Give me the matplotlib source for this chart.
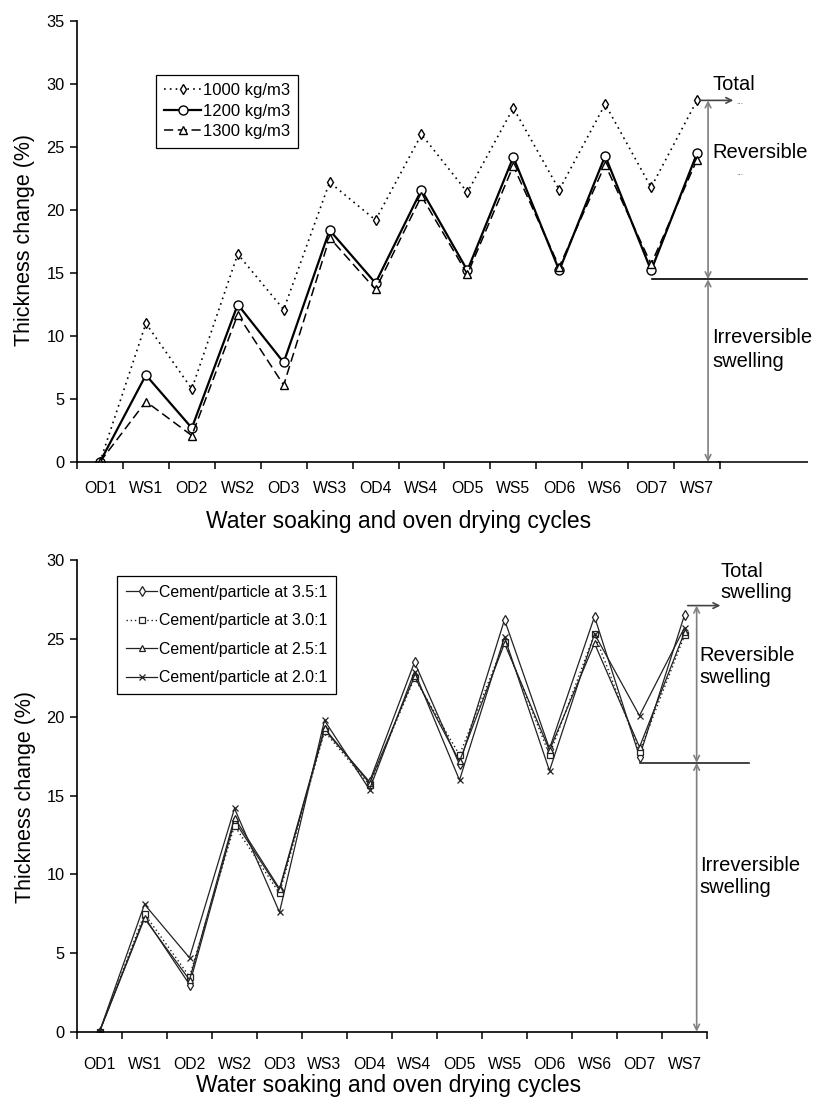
import numpy as np
import matplotlib
matplotlib.use("Agg")
import matplotlib.pyplot as plt

plt.rcParams['font.family'] = ['Liberation Sans', 'DejaVu Sans']

# ---------------- data ----------------
cycles = ['OD1', 'WS1', 'OD2', 'WS2', 'OD3', 'WS3', 'OD4',
          'WS4', 'OD5', 'WS5', 'OD6', 'WS6', 'OD7', 'WS7']

density_labels = ['1000 kg/m3', '1200 kg/m3', '1300 kg/m3']
density_1000 = [0, 11.0, 5.8, 16.5, 12.1, 22.2, 19.2, 26.0, 21.4, 28.1, 21.6, 28.4, 21.8, 28.7]
density_1200 = [0, 6.9, 2.7, 12.5, 7.9, 18.4, 14.2, 21.6, 15.2, 24.2, 15.2, 24.3, 15.2, 24.5]
density_1300 = [0, 4.8, 2.1, 11.7, 6.1, 17.8, 13.7, 21.1, 14.9, 23.5, 15.5, 23.6, 15.7, 24.0]

ratio_labels = ['Cement/particle at 3.5:1', 'Cement/particle at 3.0:1',
                'Cement/particle at 2.5:1', 'Cement/particle at 2.0:1']
ratio_35 = [0, 7.3, 3.0, 13.4, 9.0, 19.2, 15.9, 23.5, 17.0, 26.2, 18.0, 26.4, 17.5, 26.5]
ratio_30 = [0, 7.5, 3.5, 13.1, 8.8, 19.1, 15.7, 22.5, 17.6, 24.8, 17.6, 25.3, 17.8, 25.2]
ratio_25 = [0, 7.2, 3.3, 13.6, 9.1, 19.3, 15.8, 22.6, 17.2, 24.7, 17.9, 24.7, 18.1, 25.4]
ratio_20 = [0, 8.1, 4.7, 14.2, 7.6, 19.8, 15.4, 22.9, 16.0, 25.1, 16.6, 25.3, 20.1, 25.7]

# swelling annotation levels (%)
top_total, top_irrev = 28.7, 14.5
bot_total, bot_irrev = 27.1, 17.1

W, H = 819, 1097
fig = plt.figure(figsize=(W / 100, H / 100), dpi=100)


def px_axes(x0, x1, y0, y1):
    return fig.add_axes([x0 / W, 1 - y1 / H, (x1 - x0) / W, (y1 - y0) / H])


ax1 = px_axes(77, 720, 21, 462)
ax2 = px_axes(77, 707, 560, 1031.7)

x = np.arange(len(cycles))


def style_axes(ax, ymax, ystep, xpad):
    ax.set_xlim(-0.5, len(cycles) - 0.5)
    ax.set_ylim(0, ymax)
    ax.set_yticks(np.arange(0, ymax + 0.1, ystep))
    ax.set_xticks(x)
    ax.set_xticklabels(cycles, fontsize=11.3)
    ax.set_xticks(np.arange(-0.5, len(cycles), 1), minor=True)
    ax.tick_params(axis='x', which='major', length=0, pad=xpad)
    ax.tick_params(axis='x', which='minor', length=5, width=1.1, direction='out')
    ax.tick_params(axis='y', which='major', length=5, width=1.1, direction='out',
                   labelsize=11.8, pad=4)
    for s in ['top', 'right']:
        ax.spines[s].set_visible(False)
    for s in ['left', 'bottom']:
        ax.spines[s].set_linewidth(1.2)
    ax.set_ylabel('Thickness change (%)', fontsize=15.5)
    ax.set_xlabel('Water soaking and oven drying cycles', fontsize=16.5)
    ax.yaxis.label.set_va('center')
    ax.xaxis.label.set_va('center')


# ---------------- top chart ----------------
mk = dict(markerfacecolor='white', markeredgecolor='black', markeredgewidth=1.0)
ax1.plot(x, density_1000, color='black', linestyle=(0, (1, 2.5)), linewidth=1.2,
         marker='d', markersize=5.5, label=density_labels[0], **mk)
ax1.plot(x, density_1200, color='black', linestyle='-', linewidth=1.6,
         marker='o', markersize=6.5, label=density_labels[1], **mk)
ax1.plot(x, density_1300, color='black', linestyle=(0, (6, 3)), linewidth=1.1,
         marker='^', markersize=5.5, label=density_labels[2], **mk)
style_axes(ax1, 35, 5, 14)
ax1.yaxis.set_label_coords(-0.081, 0.503)
ax1.xaxis.set_label_coords(0.5, -0.136)
ax1.legend(loc='upper left', bbox_to_anchor=(156 / W, 1 - 75 / H),
           bbox_transform=fig.transFigure, fontsize=12, frameon=True,
           fancybox=False, edgecolor='black', framealpha=1, borderaxespad=0,
           handlelength=2.2, handletextpad=0.1, labelspacing=0.33,
           borderpad=0.5).get_frame().set_linewidth(0.9)

# annotations (top)
grey = '#808080'
ax1.annotate('', xy=(13.85, top_total), xytext=(13.0, top_total),
             arrowprops=dict(arrowstyle='->', color='#444444', lw=1.2),
             annotation_clip=False)
ax1.annotate('', xy=(13.24, top_irrev), xytext=(13.24, top_total),
             arrowprops=dict(arrowstyle='<->', color=grey, lw=1.2, shrinkA=0, shrinkB=0),
             annotation_clip=False)
ax1.annotate('', xy=(13.24, 0), xytext=(13.24, top_irrev),
             arrowprops=dict(arrowstyle='<->', color=grey, lw=1.2, shrinkA=0, shrinkB=0),
             annotation_clip=False)
ax1.plot([12.02, 15.39], [top_irrev, top_irrev], color='black', lw=1.2, clip_on=False)
ax1.plot([13.48, 15.39], [0, 0], color='#333333', lw=1.4, clip_on=False)
ax1.text(13.33, 30.0, 'Total', fontsize=14.5, va='center', ha='left', clip_on=False)
ax1.text(13.33, 24.6, 'Reversible', fontsize=14.5, va='center', ha='left', clip_on=False)
ax1.text(13.33, 8.9, 'Irreversible\nswelling', fontsize=14.5, va='center', ha='left',
         linespacing=1.35, clip_on=False)
ax1.text(13.85, 28.5, '...', fontsize=6, color='#555555', va='center', ha='left', clip_on=False)
ax1.text(13.85, 22.9, '...', fontsize=6, color='#555555', va='center', ha='left', clip_on=False)

# ---------------- bottom chart ----------------
lc = '#222222'
mk2 = dict(markerfacecolor='white', markeredgecolor=lc, markeredgewidth=0.9)
ax2.plot(x, ratio_35, color=lc, linestyle='-', linewidth=0.9,
         marker='d', markersize=5, label=ratio_labels[0], **mk2)
ax2.plot(x, ratio_30, color=lc, linestyle=(0, (1, 2)), linewidth=1.0,
         marker='s', markersize=4.5, label=ratio_labels[1], **mk2)
ax2.plot(x, ratio_25, color=lc, linestyle='-', linewidth=0.9,
         marker='^', markersize=5, label=ratio_labels[2], **mk2)
ax2.plot(x, ratio_20, color=lc, linestyle='-', linewidth=0.9,
         marker='x', markersize=5, label=ratio_labels[3],
         markeredgecolor=lc, markeredgewidth=0.9)
style_axes(ax2, 30, 5, 18)
ax2.yaxis.set_label_coords(-0.0825, 0.4976)
ax2.xaxis.set_label_coords(0.495, -0.113)
ax2.legend(loc='upper left', bbox_to_anchor=(117 / W, 1 - 576 / H),
           bbox_transform=fig.transFigure, fontsize=11.4, frameon=True,
           fancybox=False, edgecolor='black', framealpha=1, borderaxespad=0,
           handlelength=2.0, handletextpad=0.1, labelspacing=0.85,
           borderpad=0.55).get_frame().set_linewidth(0.9)

# annotations (bottom)
ax2.annotate('', xy=(13.86, bot_total), xytext=(13.01, bot_total),
             arrowprops=dict(arrowstyle='->', color='#444444', lw=1.2),
             annotation_clip=False)
ax2.annotate('', xy=(13.27, bot_irrev), xytext=(13.27, bot_total),
             arrowprops=dict(arrowstyle='<->', color=grey, lw=1.2, shrinkA=0, shrinkB=0),
             annotation_clip=False)
ax2.annotate('', xy=(13.27, 0), xytext=(13.27, bot_irrev),
             arrowprops=dict(arrowstyle='<->', color=grey, lw=1.2, shrinkA=0, shrinkB=0),
             annotation_clip=False)
ax2.plot([12.01, 14.43], [bot_irrev, bot_irrev], color='#222222', lw=1.2, clip_on=False)
ax2.text(13.79, 28.6, 'Total\nswelling', fontsize=14.5, va='center', ha='left',
         linespacing=1.15, clip_on=False)
ax2.text(13.34, 23.2, 'Reversible\nswelling', fontsize=14.5, va='center', ha='left',
         linespacing=1.2, clip_on=False)
ax2.text(13.34, 9.9, 'Irreversible\nswelling', fontsize=14.5, va='center', ha='left',
         linespacing=1.2, clip_on=False)

fig.savefig('out.png', dpi=100)
